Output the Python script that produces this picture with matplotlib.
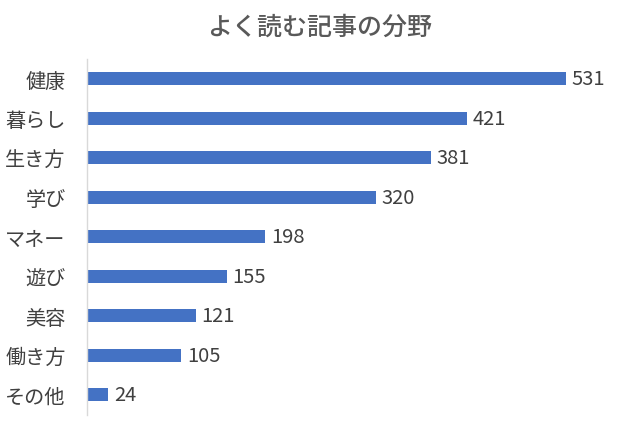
import matplotlib
matplotlib.use('Agg')
import matplotlib.pyplot as plt

plt.rcParams['font.family'] = ['Noto Sans CJK JP', 'DejaVu Sans']

categories = ['健康', '暮らし', '生き方', '学び', 'マネー', '遊び', '美容', '働き方', 'その他']
values = [531, 421, 381, 320, 198, 155, 121, 105, 24]

fig = plt.figure(figsize=(6.4, 4.27), dpi=100)
ax = fig.add_axes([86.5 / 640, 11.5 / 427, 533 / 640, 355.5 / 427])

pos = list(range(len(categories)))
bars = ax.barh(pos, values, height=0.34, color='#4472C4')
ax.set_xlim(0, 590)
ax.set_ylim(len(categories) - 0.5, -0.5)
ax.set_yticks(pos)
ax.set_yticklabels(categories, fontsize=14.5, color='#404040')
ax.tick_params(axis='y', length=0, pad=15)
ax.set_xticks([])
for s in ['top', 'right', 'bottom']:
    ax.spines[s].set_visible(False)
ax.spines['left'].set_color('#D9D9D9')
ax.spines['left'].set_linewidth(1)

for b, v in zip(bars, values):
    ax.annotate(str(v), (b.get_width(), b.get_y() + b.get_height() / 2),
                xytext=(4, 0), textcoords='offset points', va='center', ha='left',
                fontsize=14.5, color='#404040')

fig.text(0.5, 1 - 28 / 427, 'よく読む記事の分野', ha='center', va='center',
         fontsize=18, color='#595959', fontweight='medium')

fig.savefig('out.png', dpi=100)
